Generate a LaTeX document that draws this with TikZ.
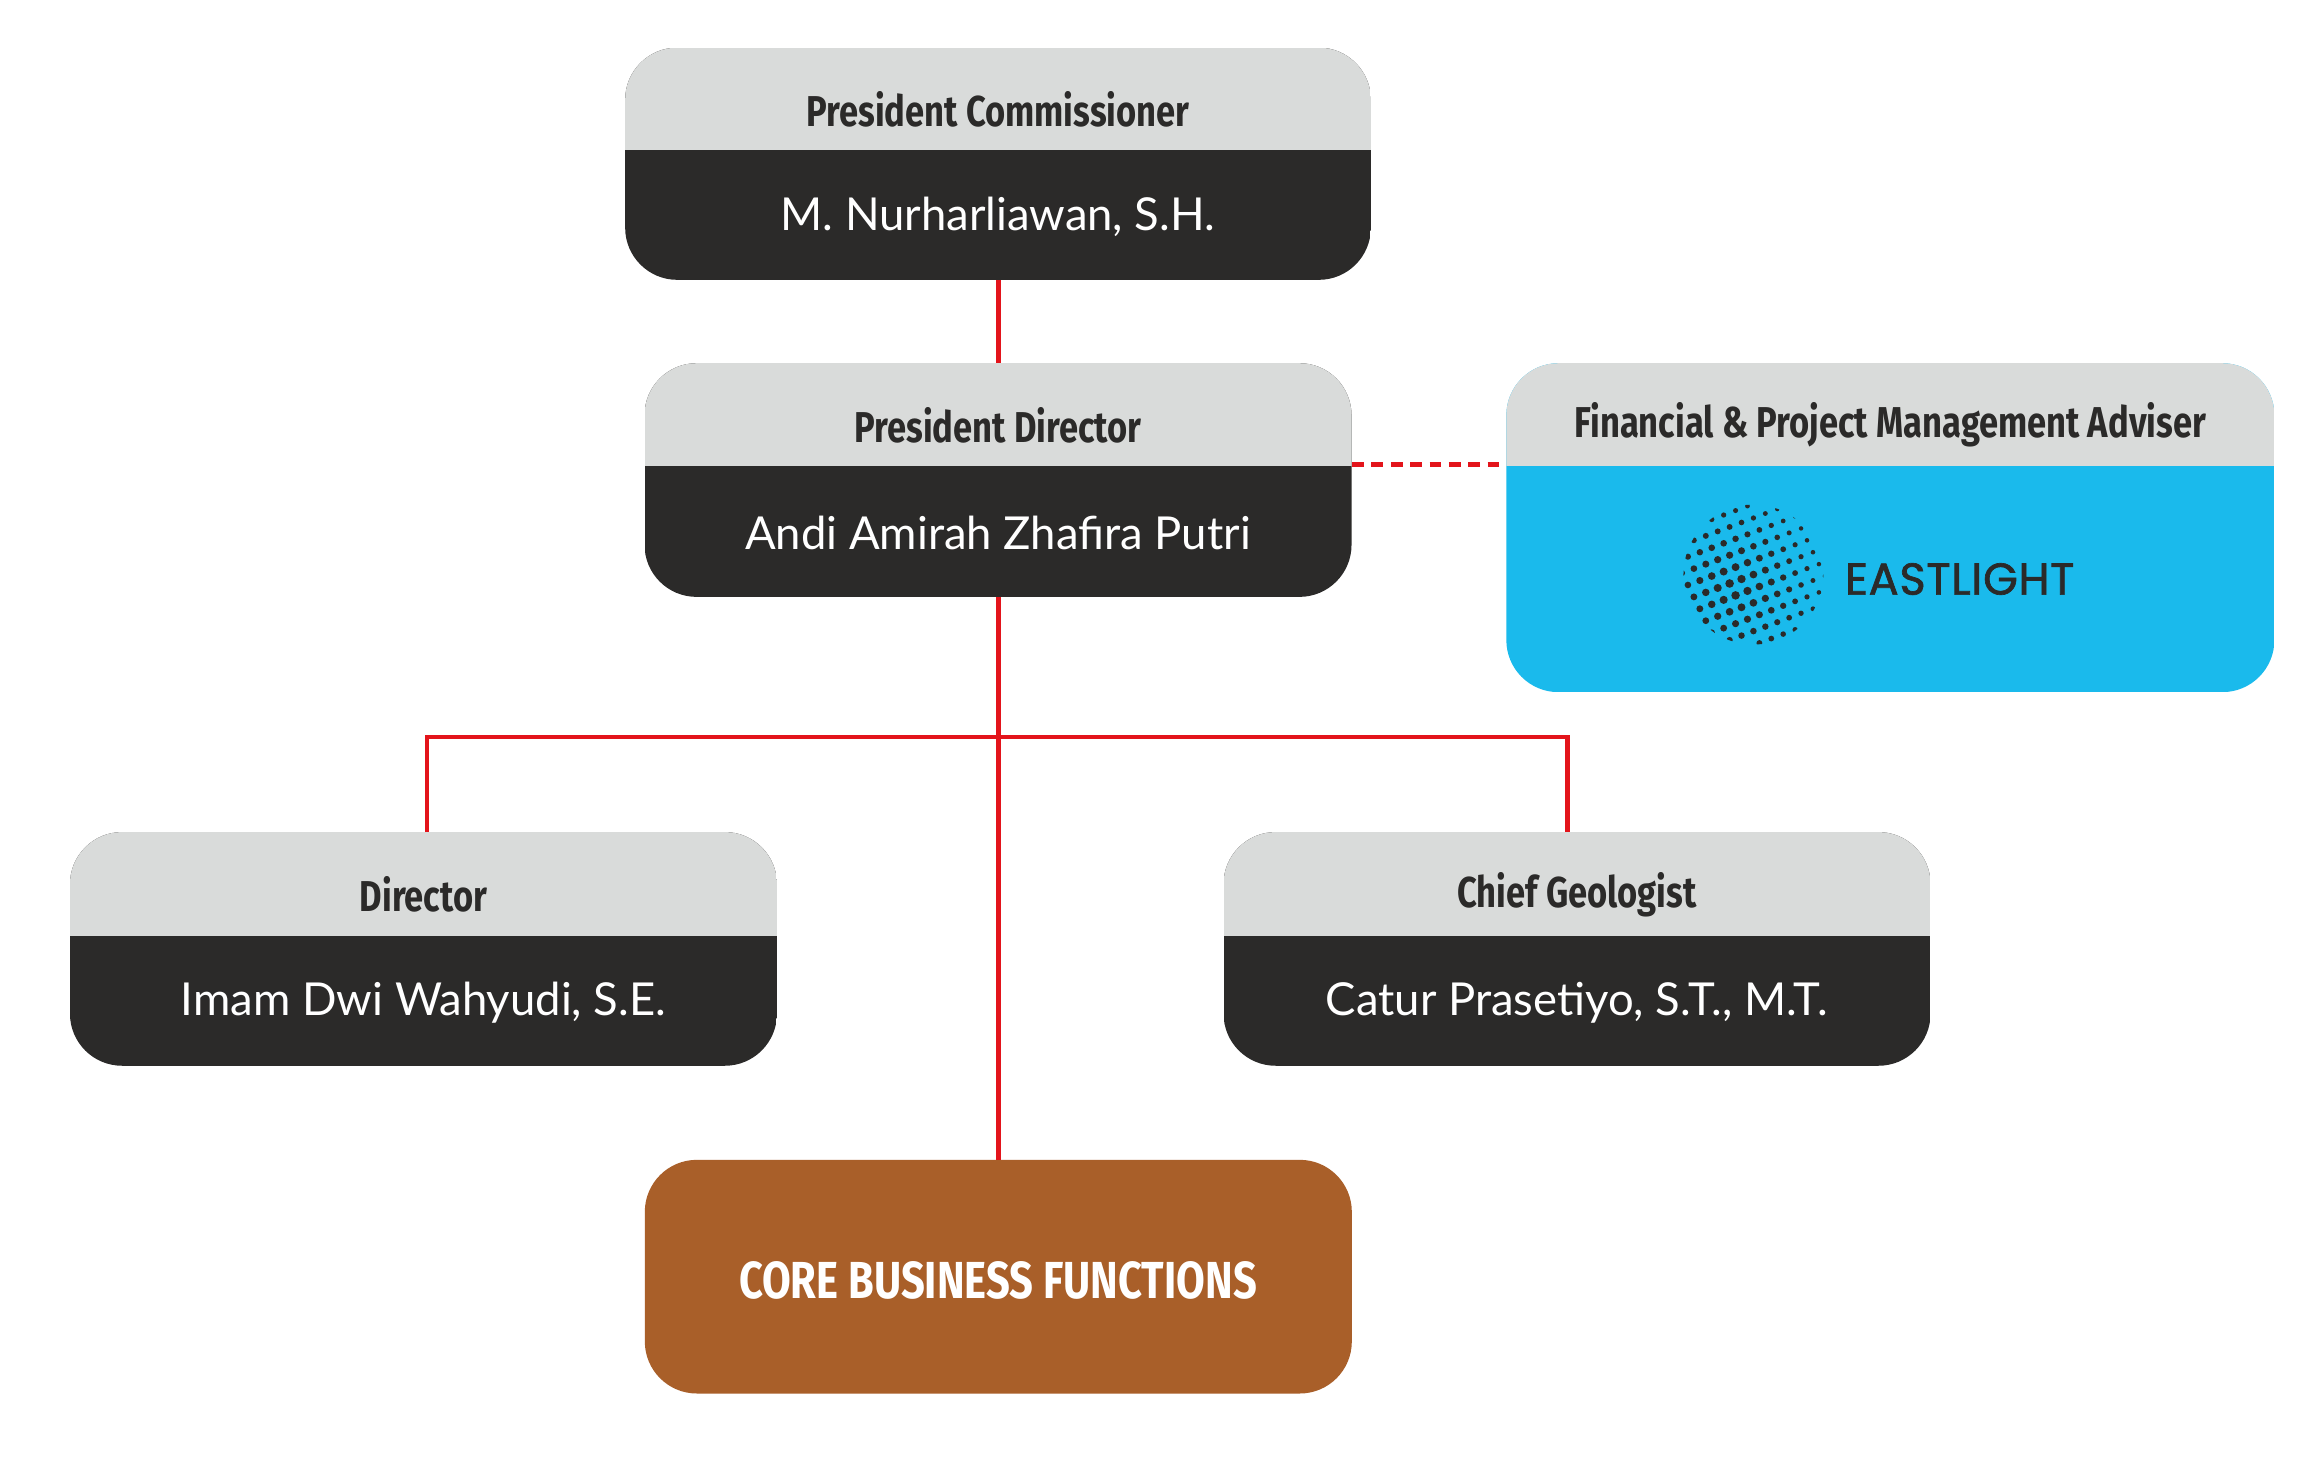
\documentclass[tikz,border=0pt]{standalone}
\usepackage{fontspec}
\setmainfont{Lato}
\newfontfamily\headf{Fira Sans}[FakeStretch=0.8]
\newfontfamily\logof{Poppins}[FakeBold=1.5]
\definecolor{hd}{HTML}{D9DBDA}
\definecolor{dk}{HTML}{2B2A29}
\definecolor{bl}{HTML}{1ABAEC}
\definecolor{br}{HTML}{A95F29}
\definecolor{rd}{HTML}{E3141B}
\tikzset{
 conn/.style={draw=rd,line width=3pt},
 headtxt/.style={font=\headf\bfseries\fontsize{29}{34}\selectfont,text=dk},
 nametxt/.style={font=\fontsize{30.5}{36}\selectfont,text=white},
}
\newcommand{\orgbox}[9]{%
 \node[minimum width=#4-#2,minimum height=#5-#3,inner sep=0,anchor=north west] (#1) at (#2,#3) {};
 \begin{scope}
 \clip[rounded corners=35] (#2,#3) rectangle (#4,#5);
 \fill[#9] (#2,#3) rectangle (#4,#5);
 \fill[hd] (#2,#3) rectangle (#4,#6);
 \end{scope}
 \node[headtxt] (#1h) at ({(#2+#4)/2},{(#3+#6)/2+7}) {#7};
 \node[nametxt] (#1n) at ({(#2+#4)/2},{(#6+#5)/2+1}) {#8};
}
\begin{document}
\begin{tikzpicture}[x=1pt,y=-1pt]
\useasboundingbox[fill=white] (0,0) rectangle (1560,983);
\orgbox{pc}{420}{32}{921}{188}{101}{President Commissioner}{M. Nurharliawan, S.H.}{dk}
\orgbox{pd}{433}{244}{908}{401}{313}{President Director}{Andi Amirah Zhafira Putri}{dk}
\orgbox{ad}{1012}{244}{1528}{465}{313}{Financial \& Project Management Adviser}{}{bl}
\orgbox{di}{47}{559}{522}{716}{629}{Director}{Imam Dwi Wahyudi, S.E.}{dk}
\orgbox{cg}{822}{559}{1297}{716}{629}{Chief Geologist}{Catur Prasetiyo, S.T., M.T.}{dk}
\node[fill=br,rounded corners=35,minimum width=475,minimum height=157,anchor=north west] (core) at (433,779) {};
\node[font=\headf\bfseries\fontsize{35}{40}\selectfont,text=white] (coret) at (670.5,860) {CORE BUSINESS FUNCTIONS};
% connectors
\coordinate (j) at (670,495);
\draw[conn] (pc.south) -- (pd.north);
\draw[conn] (pd.south) -- (core.north);
\draw[conn] (di.north -| 287,0) |- (j) -| (cg.north -| 1053,0);
\draw[conn,dash pattern=on 8pt off 5pt] (pd.east |- 0,312) -- (ad.west |- 0,312);
% logo
\begin{scope}
\clip (1178,386) circle (47);
\foreach \i in {-8,...,8}{
 \foreach \k in {-8,...,8}{
  \pgfmathsetmacro{\px}{1178+\i*8+\k*4}
  \pgfmathsetmacro{\py}{386+\k*8-\i*3}
  \pgfmathsetmacro{\rr}{max(0.6,3.0-0.025*sqrt((\px-1165)^2+(\py-395)^2))}
  \fill[dk] (\px,\py) circle (\rr);
 }}
\end{scope}
\node[font=\logof\fontsize{30}{34}\selectfont,text=dk,anchor=west] (logo) at (1236,389) {E\kern0.5pt A\kern0.5pt S\kern0.5pt T\kern0.5pt L\kern0.5pt I\kern0.5pt G\kern0.5pt H\kern0.5pt T};
\end{tikzpicture}
\end{document}
